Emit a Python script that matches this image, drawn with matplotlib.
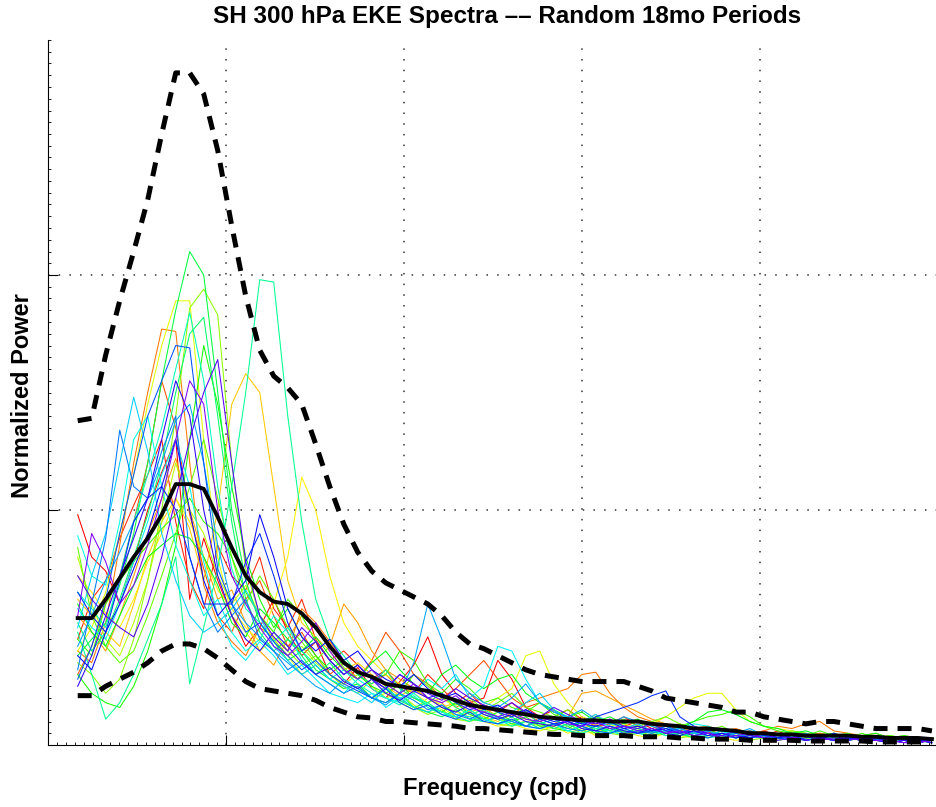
import numpy as np
import matplotlib
matplotlib.use("Agg")
import matplotlib.pyplot as plt
from matplotlib.ticker import MultipleLocator, FixedLocator, NullFormatter

plt.rcParams['font.family'] = ['Liberation Sans', 'DejaVu Sans']

# frequency bins (cpd)
freq = 0.00834 + 0.003933 * np.arange(62)

mean_spec = [0.54, 0.54, 0.62, 0.71, 0.80, 0.88, 0.98, 1.11, 1.11, 1.09,
             0.97, 0.84, 0.72, 0.65, 0.61, 0.60, 0.56, 0.50, 0.42, 0.35,
             0.31, 0.29, 0.26, 0.25, 0.24, 0.23, 0.21, 0.19, 0.17, 0.16,
             0.15, 0.14, 0.13, 0.12, 0.115, 0.11, 0.105, 0.105, 0.10, 0.10,
             0.10, 0.09, 0.085, 0.08, 0.07, 0.07, 0.065, 0.06, 0.05, 0.05,
             0.045, 0.045, 0.04, 0.04, 0.04, 0.04, 0.035, 0.035, 0.03, 0.03,
             0.03, 0.025]

upper_spec = [1.38, 1.39, 1.66, 1.89, 2.10, 2.32, 2.60, 2.86, 2.86, 2.77,
              2.53, 2.21, 1.91, 1.68, 1.57, 1.52, 1.45, 1.28, 1.10, 0.94,
              0.82, 0.74, 0.69, 0.66, 0.63, 0.60, 0.55, 0.48, 0.43, 0.41,
              0.38, 0.35, 0.32, 0.30, 0.29, 0.28, 0.27, 0.27, 0.27, 0.27,
              0.25, 0.23, 0.20, 0.19, 0.18, 0.17, 0.16, 0.14, 0.14, 0.12,
              0.11, 0.10, 0.09, 0.10, 0.10, 0.09, 0.08, 0.07, 0.07, 0.07,
              0.07, 0.06]

lower_spec = [0.21, 0.21, 0.25, 0.28, 0.31, 0.35, 0.40, 0.43, 0.43, 0.41,
              0.37, 0.32, 0.27, 0.24, 0.23, 0.22, 0.21, 0.19, 0.16, 0.14,
              0.12, 0.115, 0.10, 0.10, 0.095, 0.09, 0.085, 0.08, 0.07, 0.07,
              0.065, 0.06, 0.055, 0.05, 0.045, 0.045, 0.04, 0.04, 0.04, 0.04,
              0.035, 0.035, 0.035, 0.03, 0.03, 0.025, 0.025, 0.025, 0.02, 0.02,
              0.02, 0.02, 0.017, 0.017, 0.017, 0.017, 0.017, 0.013, 0.013, 0.013,
              0.013, 0.013]

# individual random 18-month samples
samples = [
    [0.98, 0.80, 0.74, 0.60, 0.78, 1.00, 1.16, 1.30, 0.62, 0.88, 0.70, 0.55, 0.42, 0.50, 0.62, 0.48, 0.38, 0.44, 0.30, 0.26,
     0.33, 0.24, 0.20, 0.27, 0.34, 0.46, 0.30, 0.22, 0.18, 0.20, 0.36, 0.28, 0.16, 0.12, 0.15, 0.10, 0.12, 0.09, 0.11, 0.08,
     0.10, 0.07, 0.09, 0.06, 0.08, 0.05, 0.07, 0.05, 0.04, 0.06, 0.04, 0.05, 0.03, 0.04, 0.05, 0.03, 0.02, 0.04, 0.03, 0.02, 0.03, 0.02],
    [0.45, 0.62, 0.70, 0.88, 1.02, 1.15, 1.30, 0.95, 0.70, 0.58, 0.85, 0.72, 0.66, 0.80, 0.58, 0.50, 0.62, 0.45, 0.36, 0.40,
     0.34, 0.28, 0.32, 0.25, 0.22, 0.30, 0.24, 0.18, 0.22, 0.16, 0.14, 0.18, 0.13, 0.10, 0.12, 0.15, 0.11, 0.08, 0.09, 0.12,
     0.08, 0.06, 0.09, 0.07, 0.05, 0.08, 0.06, 0.04, 0.05, 0.04, 0.06, 0.03, 0.04, 0.05, 0.03, 0.04, 0.02, 0.03, 0.04, 0.02, 0.02, 0.03],
    [0.30, 0.42, 0.60, 0.72, 0.95, 1.20, 1.55, 1.35, 0.98, 0.75, 0.55, 0.48, 0.62, 0.70, 0.55, 0.42, 0.48, 0.38, 0.30, 0.35,
     0.28, 0.36, 0.48, 0.40, 0.30, 0.26, 0.20, 0.24, 0.30, 0.36, 0.28, 0.20, 0.16, 0.18, 0.14, 0.12, 0.10, 0.13, 0.09, 0.07,
     0.09, 0.06, 0.08, 0.05, 0.07, 0.06, 0.04, 0.05, 0.06, 0.04, 0.03, 0.05, 0.04, 0.03, 0.02, 0.04, 0.03, 0.03, 0.02, 0.03, 0.02, 0.02],
    [0.40, 0.35, 0.52, 0.85, 1.20, 1.50, 1.77, 1.76, 1.20, 0.68, 0.52, 0.44, 0.38, 0.50, 0.46, 0.40, 0.58, 0.52, 0.44, 0.36,
     0.30, 0.26, 0.30, 0.24, 0.20, 0.18, 0.22, 0.16, 0.19, 0.14, 0.16, 0.12, 0.18, 0.20, 0.22, 0.24, 0.30, 0.31, 0.22, 0.16,
     0.12, 0.10, 0.08, 0.09, 0.07, 0.08, 0.06, 0.07, 0.05, 0.06, 0.08, 0.07, 0.09, 0.10, 0.06, 0.05, 0.04, 0.05, 0.03, 0.04, 0.03, 0.03],
    [0.55, 0.48, 0.40, 0.55, 0.72, 0.90, 1.05, 1.22, 1.00, 0.80, 0.62, 0.66, 0.52, 0.40, 0.34, 0.45, 0.55, 0.50, 0.42, 0.60,
     0.52, 0.40, 0.32, 0.28, 0.24, 0.20, 0.18, 0.12, 0.14, 0.16, 0.12, 0.10, 0.14, 0.11, 0.09, 0.12, 0.22, 0.23, 0.20, 0.17,
     0.14, 0.11, 0.09, 0.07, 0.08, 0.06, 0.07, 0.05, 0.06, 0.04, 0.05, 0.04, 0.03, 0.05, 0.04, 0.03, 0.04, 0.02, 0.03, 0.03, 0.02, 0.03],
    [0.62, 0.55, 0.48, 0.42, 0.60, 0.80, 0.95, 1.05, 0.92, 0.70, 1.00, 1.45, 1.58, 1.50, 1.10, 0.70, 0.52, 0.46, 0.40, 0.32,
     0.35, 0.30, 0.25, 0.21, 0.24, 0.20, 0.16, 0.18, 0.14, 0.12, 0.10, 0.13, 0.11, 0.09, 0.08, 0.10, 0.07, 0.09, 0.06, 0.08,
     0.07, 0.05, 0.06, 0.08, 0.05, 0.04, 0.06, 0.04, 0.05, 0.03, 0.04, 0.03, 0.05, 0.03, 0.02, 0.04, 0.03, 0.02, 0.03, 0.02, 0.02, 0.03],
    [0.72, 0.65, 0.56, 0.50, 0.62, 0.78, 0.90, 1.05, 0.95, 0.80, 0.66, 0.58, 0.50, 0.44, 0.60, 0.80, 1.14, 1.00, 0.72, 0.52,
     0.42, 0.36, 0.30, 0.26, 0.22, 0.18, 0.20, 0.16, 0.13, 0.10, 0.08, 0.09, 0.07, 0.06, 0.08, 0.05, 0.07, 0.04, 0.05, 0.06,
     0.04, 0.03, 0.05, 0.04, 0.03, 0.04, 0.03, 0.02, 0.03, 0.04, 0.02, 0.03, 0.02, 0.03, 0.02, 0.02, 0.03, 0.02, 0.01, 0.02, 0.01, 0.02],
    [0.40, 0.50, 0.65, 0.90, 1.15, 1.45, 1.70, 1.89, 1.89, 1.30, 0.80, 0.55, 0.48, 0.40, 0.45, 0.38, 0.30, 0.34, 0.28, 0.24,
     0.26, 0.20, 0.22, 0.18, 0.15, 0.20, 0.17, 0.14, 0.12, 0.16, 0.20, 0.24, 0.38, 0.40, 0.26, 0.18, 0.12, 0.10, 0.08, 0.09,
     0.07, 0.09, 0.12, 0.16, 0.20, 0.22, 0.22, 0.15, 0.10, 0.08, 0.07, 0.06, 0.05, 0.04, 0.05, 0.03, 0.04, 0.03, 0.02, 0.03, 0.02, 0.02],
    [0.80, 0.60, 0.45, 0.38, 0.52, 0.70, 0.95, 1.20, 1.00, 0.90, 0.72, 0.60, 0.68, 0.55, 0.45, 0.38, 0.42, 0.35, 0.30, 0.26,
     0.30, 0.25, 0.20, 0.22, 0.17, 0.14, 0.16, 0.12, 0.10, 0.13, 0.11, 0.09, 0.10, 0.08, 0.07, 0.09, 0.06, 0.05, 0.07, 0.06,
     0.05, 0.04, 0.06, 0.05, 0.04, 0.03, 0.05, 0.04, 0.03, 0.04, 0.03, 0.02, 0.03, 0.04, 0.02, 0.03, 0.02, 0.03, 0.02, 0.02, 0.01, 0.02],
    [0.35, 0.30, 0.22, 0.28, 0.45, 0.70, 1.00, 1.40, 1.86, 1.94, 1.83, 1.20, 0.75, 0.55, 0.48, 0.40, 0.34, 0.38, 0.30, 0.25,
     0.22, 0.28, 0.24, 0.19, 0.16, 0.13, 0.15, 0.11, 0.10, 0.12, 0.09, 0.08, 0.10, 0.07, 0.06, 0.08, 0.05, 0.07, 0.05, 0.04,
     0.06, 0.04, 0.05, 0.03, 0.04, 0.05, 0.03, 0.04, 0.02, 0.03, 0.04, 0.02, 0.03, 0.02, 0.03, 0.02, 0.03, 0.02, 0.01, 0.02, 0.02, 0.01],
    [0.84, 0.55, 0.42, 0.35, 0.40, 0.55, 0.72, 0.90, 1.10, 1.30, 1.05, 0.80, 0.60, 0.72, 0.62, 0.50, 0.44, 0.36, 0.42, 0.33,
     0.28, 0.32, 0.26, 0.22, 0.30, 0.25, 0.20, 0.17, 0.20, 0.15, 0.18, 0.22, 0.16, 0.14, 0.12, 0.15, 0.10, 0.12, 0.09, 0.11,
     0.08, 0.10, 0.12, 0.09, 0.07, 0.06, 0.08, 0.05, 0.06, 0.05, 0.04, 0.06, 0.05, 0.03, 0.04, 0.05, 0.03, 0.02, 0.04, 0.03, 0.03, 0.02],
    [0.45, 0.38, 0.60, 0.70, 0.78, 0.85, 0.92, 0.98, 1.05, 0.95, 0.90, 0.80, 0.65, 0.55, 0.48, 0.62, 0.55, 0.44, 0.36, 0.30,
     0.34, 0.28, 0.30, 0.40, 0.36, 0.26, 0.22, 0.28, 0.24, 0.18, 0.20, 0.16, 0.14, 0.18, 0.13, 0.11, 0.09, 0.12, 0.10, 0.08,
     0.07, 0.09, 0.06, 0.08, 0.10, 0.12, 0.13, 0.15, 0.12, 0.08, 0.06, 0.05, 0.04, 0.06, 0.04, 0.03, 0.05, 0.03, 0.04, 0.03, 0.02, 0.03],
    [0.30, 0.22, 0.18, 0.16, 0.25, 0.40, 0.60, 0.85, 1.30, 1.70, 1.45, 1.10, 0.80, 0.62, 0.50, 0.58, 0.46, 0.38, 0.32, 0.36,
     0.30, 0.25, 0.22, 0.26, 0.20, 0.17, 0.14, 0.18, 0.13, 0.11, 0.14, 0.10, 0.12, 0.08, 0.09, 0.07, 0.10, 0.06, 0.08, 0.05,
     0.07, 0.05, 0.06, 0.04, 0.05, 0.07, 0.04, 0.05, 0.03, 0.04, 0.03, 0.05, 0.04, 0.02, 0.03, 0.04, 0.02, 0.03, 0.02, 0.02, 0.03, 0.02],
    [0.60, 0.48, 0.42, 0.55, 0.68, 0.80, 0.85, 0.90, 0.88, 0.80, 0.68, 0.52, 0.46, 0.58, 0.52, 0.45, 0.40, 0.46, 0.38, 0.32,
     0.28, 0.35, 0.40, 0.32, 0.26, 0.22, 0.30, 0.34, 0.28, 0.24, 0.28, 0.30, 0.22, 0.18, 0.15, 0.12, 0.14, 0.10, 0.12, 0.09,
     0.11, 0.08, 0.09, 0.07, 0.10, 0.14, 0.15, 0.13, 0.10, 0.08, 0.07, 0.05, 0.06, 0.04, 0.05, 0.03, 0.04, 0.05, 0.03, 0.04, 0.03, 0.03],
    [0.38, 0.45, 0.52, 0.68, 0.90, 1.20, 1.55, 1.85, 2.10, 2.00, 1.50, 1.00, 0.70, 0.52, 0.44, 0.36, 0.40, 0.32, 0.28, 0.24,
     0.26, 0.20, 0.18, 0.22, 0.16, 0.14, 0.12, 0.15, 0.11, 0.10, 0.12, 0.09, 0.08, 0.10, 0.07, 0.06, 0.08, 0.05, 0.07, 0.06,
     0.05, 0.06, 0.04, 0.05, 0.03, 0.04, 0.05, 0.03, 0.04, 0.03, 0.02, 0.03, 0.04, 0.02, 0.03, 0.02, 0.03, 0.02, 0.02, 0.01, 0.02, 0.02],
    [0.52, 0.40, 0.48, 0.62, 0.80, 0.98, 1.20, 1.50, 1.75, 1.82, 1.40, 0.95, 0.62, 0.48, 0.40, 0.45, 0.38, 0.30, 0.35, 0.28,
     0.24, 0.20, 0.25, 0.19, 0.16, 0.18, 0.14, 0.12, 0.15, 0.11, 0.09, 0.12, 0.08, 0.10, 0.07, 0.09, 0.06, 0.08, 0.05, 0.06,
     0.05, 0.04, 0.06, 0.05, 0.03, 0.04, 0.06, 0.04, 0.03, 0.05, 0.03, 0.04, 0.02, 0.03, 0.04, 0.02, 0.03, 0.02, 0.03, 0.02, 0.02, 0.01],
    [0.48, 0.30, 0.11, 0.18, 0.30, 0.45, 0.60, 0.80, 0.26, 0.50, 0.75, 1.10, 1.50, 1.98, 1.97, 1.40, 0.95, 0.62, 0.45, 0.38,
     0.30, 0.26, 0.32, 0.24, 0.20, 0.18, 0.22, 0.16, 0.13, 0.15, 0.12, 0.10, 0.14, 0.09, 0.11, 0.08, 0.10, 0.07, 0.06, 0.08,
     0.06, 0.05, 0.07, 0.04, 0.05, 0.06, 0.04, 0.03, 0.05, 0.04, 0.03, 0.04, 0.02, 0.03, 0.02, 0.04, 0.03, 0.02, 0.02, 0.03, 0.02, 0.02],
    [0.65, 0.58, 0.50, 0.72, 0.95, 1.15, 1.35, 1.60, 1.84, 1.55, 1.10, 0.75, 0.58, 0.52, 0.44, 0.50, 0.40, 0.34, 0.28, 0.32,
     0.26, 0.22, 0.20, 0.17, 0.21, 0.16, 0.13, 0.12, 0.10, 0.14, 0.11, 0.08, 0.10, 0.07, 0.09, 0.06, 0.05, 0.07, 0.06, 0.04,
     0.05, 0.07, 0.04, 0.06, 0.05, 0.03, 0.04, 0.05, 0.03, 0.04, 0.03, 0.02, 0.04, 0.03, 0.02, 0.03, 0.02, 0.03, 0.01, 0.02, 0.02, 0.02],
    [0.89, 0.72, 0.68, 0.95, 1.30, 1.40, 1.10, 0.85, 0.70, 0.55, 0.62, 0.48, 0.40, 0.45, 0.55, 0.48, 0.36, 0.30, 0.26, 0.22,
     0.28, 0.24, 0.20, 0.18, 0.22, 0.17, 0.14, 0.12, 0.15, 0.11, 0.09, 0.10, 0.08, 0.07, 0.09, 0.06, 0.08, 0.06, 0.05, 0.07,
     0.05, 0.04, 0.06, 0.07, 0.09, 0.08, 0.06, 0.04, 0.05, 0.03, 0.04, 0.03, 0.02, 0.04, 0.03, 0.02, 0.03, 0.02, 0.03, 0.02, 0.01, 0.02],
    [0.58, 0.50, 0.45, 0.60, 0.78, 0.95, 1.15, 1.30, 1.10, 0.78, 0.55, 0.42, 0.36, 0.44, 0.38, 0.30, 0.34, 0.28, 0.22, 0.20,
     0.18, 0.22, 0.16, 0.20, 0.22, 0.28, 0.24, 0.30, 0.20, 0.25, 0.42, 0.40, 0.28, 0.18, 0.14, 0.12, 0.10, 0.13, 0.09, 0.08,
     0.07, 0.06, 0.08, 0.05, 0.06, 0.04, 0.05, 0.06, 0.04, 0.03, 0.04, 0.03, 0.02, 0.03, 0.04, 0.02, 0.03, 0.02, 0.02, 0.03, 0.02, 0.02],
    [0.50, 0.72, 0.90, 1.20, 1.48, 1.25, 0.90, 0.70, 0.55, 0.48, 0.52, 0.58, 0.66, 0.55, 0.42, 0.36, 0.30, 0.34, 0.28, 0.25,
     0.22, 0.18, 0.24, 0.20, 0.16, 0.14, 0.17, 0.13, 0.12, 0.10, 0.12, 0.14, 0.18, 0.22, 0.15, 0.11, 0.09, 0.10, 0.08, 0.07,
     0.09, 0.06, 0.05, 0.07, 0.05, 0.04, 0.06, 0.05, 0.03, 0.04, 0.03, 0.04, 0.02, 0.03, 0.02, 0.03, 0.04, 0.02, 0.03, 0.02, 0.02, 0.01],
    [0.42, 0.55, 0.70, 0.82, 0.95, 1.05, 1.20, 1.38, 1.45, 1.20, 0.85, 0.60, 0.52, 0.46, 0.40, 0.35, 0.30, 0.25, 0.22, 0.28,
     0.24, 0.20, 0.17, 0.22, 0.35, 0.60, 0.45, 0.28, 0.22, 0.18, 0.16, 0.20, 0.26, 0.18, 0.14, 0.12, 0.15, 0.11, 0.09, 0.12,
     0.10, 0.08, 0.06, 0.07, 0.05, 0.06, 0.04, 0.05, 0.07, 0.04, 0.03, 0.04, 0.05, 0.03, 0.02, 0.04, 0.03, 0.02, 0.03, 0.02, 0.03, 0.02],
    [0.32, 0.60, 0.88, 1.34, 1.10, 1.05, 1.25, 1.40, 0.80, 0.60, 0.48, 0.55, 0.62, 0.45, 0.40, 0.32, 0.36, 0.30, 0.26, 0.22,
     0.25, 0.20, 0.18, 0.22, 0.19, 0.15, 0.17, 0.13, 0.11, 0.14, 0.12, 0.10, 0.08, 0.11, 0.09, 0.07, 0.06, 0.08, 0.07, 0.05,
     0.06, 0.05, 0.07, 0.06, 0.04, 0.05, 0.04, 0.03, 0.05, 0.04, 0.03, 0.02, 0.04, 0.03, 0.02, 0.03, 0.02, 0.03, 0.02, 0.01, 0.02, 0.02],
    [0.28, 0.42, 0.62, 0.90, 1.15, 1.40, 1.55, 1.70, 1.69, 1.20, 0.75, 0.60, 0.48, 0.52, 0.44, 0.38, 0.32, 0.36, 0.30, 0.26,
     0.23, 0.20, 0.24, 0.18, 0.15, 0.17, 0.13, 0.11, 0.14, 0.10, 0.09, 0.11, 0.08, 0.07, 0.09, 0.10, 0.08, 0.06, 0.05, 0.07,
     0.05, 0.06, 0.08, 0.06, 0.04, 0.03, 0.05, 0.04, 0.03, 0.04, 0.03, 0.02, 0.03, 0.04, 0.02, 0.03, 0.02, 0.02, 0.03, 0.02, 0.01, 0.02],
    [0.65, 0.55, 0.48, 0.70, 0.95, 1.05, 1.10, 1.00, 0.80, 0.60, 0.60, 0.60, 0.78, 0.90, 0.72, 0.52, 0.40, 0.44, 0.36, 0.30,
     0.34, 0.28, 0.24, 0.30, 0.26, 0.20, 0.22, 0.18, 0.15, 0.17, 0.14, 0.12, 0.15, 0.11, 0.09, 0.10, 0.08, 0.12, 0.14, 0.16,
     0.18, 0.21, 0.23, 0.12, 0.08, 0.06, 0.07, 0.05, 0.06, 0.04, 0.05, 0.03, 0.04, 0.03, 0.05, 0.03, 0.02, 0.03, 0.02, 0.03, 0.02, 0.02],
    [0.38, 0.32, 0.48, 0.60, 0.75, 0.90, 1.10, 1.30, 1.00, 0.70, 0.55, 0.62, 0.70, 0.98, 0.80, 0.58, 0.46, 0.40, 0.45, 0.36,
     0.40, 0.32, 0.28, 0.25, 0.30, 0.24, 0.20, 0.22, 0.18, 0.15, 0.17, 0.13, 0.15, 0.12, 0.10, 0.11, 0.09, 0.08, 0.10, 0.07,
     0.08, 0.06, 0.07, 0.05, 0.06, 0.04, 0.05, 0.03, 0.04, 0.05, 0.03, 0.04, 0.02, 0.03, 0.04, 0.02, 0.03, 0.02, 0.01, 0.02, 0.02, 0.01],
    [0.25, 0.38, 0.55, 0.72, 0.88, 1.05, 1.30, 1.55, 1.40, 1.00, 0.72, 0.55, 0.45, 0.40, 0.48, 0.42, 0.35, 0.30, 0.33, 0.27,
     0.24, 0.28, 0.22, 0.19, 0.23, 0.20, 0.16, 0.14, 0.17, 0.13, 0.11, 0.13, 0.10, 0.09, 0.08, 0.10, 0.07, 0.06, 0.08, 0.06,
     0.05, 0.07, 0.05, 0.04, 0.06, 0.05, 0.03, 0.04, 0.03, 0.05, 0.04, 0.03, 0.02, 0.03, 0.02, 0.03, 0.02, 0.02, 0.01, 0.02, 0.01, 0.02],
    [0.72, 0.62, 0.55, 0.50, 0.46, 0.60, 0.80, 1.05, 1.30, 1.50, 1.64, 1.20, 0.78, 0.55, 0.46, 0.40, 0.50, 0.44, 0.36, 0.30,
     0.34, 0.28, 0.24, 0.30, 0.26, 0.22, 0.19, 0.24, 0.20, 0.17, 0.15, 0.18, 0.14, 0.12, 0.16, 0.13, 0.10, 0.09, 0.11, 0.08,
     0.07, 0.09, 0.06, 0.05, 0.07, 0.05, 0.04, 0.06, 0.04, 0.03, 0.04, 0.03, 0.02, 0.03, 0.02, 0.04, 0.02, 0.03, 0.02, 0.01, 0.02, 0.01],
    [0.55, 0.90, 0.78, 0.60, 0.68, 0.85, 1.05, 1.30, 1.55, 1.45, 1.00, 0.72, 0.60, 0.50, 0.42, 0.38, 0.44, 0.52, 0.40, 0.32,
     0.28, 0.32, 0.26, 0.22, 0.26, 0.20, 0.18, 0.21, 0.16, 0.14, 0.12, 0.14, 0.11, 0.10, 0.12, 0.09, 0.08, 0.10, 0.07, 0.08,
     0.06, 0.07, 0.05, 0.06, 0.04, 0.05, 0.03, 0.04, 0.05, 0.03, 0.02, 0.03, 0.04, 0.02, 0.03, 0.02, 0.03, 0.02, 0.02, 0.01, 0.01, 0.02],
]

fig = plt.figure(figsize=(9.36, 8.07), dpi=100)
ax = fig.add_axes([48 / 936, 62 / 807, 1 - 48 / 936, 705 / 807])

colors = plt.cm.hsv(np.linspace(0, 0.76, len(samples)))
for s, c in zip(samples, colors):
    ax.plot(freq, s, color=c, lw=0.75, zorder=2)

ax.plot(freq, upper_spec, color='k', lw=3.6, linestyle=(0, (2.8, 2.0)), zorder=4)
ax.plot(freq, lower_spec, color='k', lw=3.6, linestyle=(0, (2.8, 2.0)), zorder=4)
ax.plot(freq, mean_spec, color='k', lw=2.8, zorder=5)

ax.set_xlim(0, 0.2494)
ax.set_ylim(0, 3)
ax.xaxis.set_major_locator(FixedLocator([0.05, 0.10, 0.15, 0.20]))
ax.yaxis.set_major_locator(FixedLocator([1, 2]))
ax.xaxis.set_minor_locator(MultipleLocator(0.0025))
ax.yaxis.set_minor_locator(MultipleLocator(0.05))
ax.xaxis.set_major_formatter(NullFormatter())
ax.yaxis.set_major_formatter(NullFormatter())
ax.tick_params(which='major', direction='in', length=7, width=0.8)
ax.tick_params(which='minor', direction='in', length=2, width=0.6)
ax.grid(True, which='major', color='#333333', linestyle=(0, (1, 6)), lw=1.1)
ax.spines['top'].set_visible(False)
ax.spines['right'].set_visible(False)

fig.text(507 / 936, 1 - 17 / 807, 'SH 300 hPa EKE Spectra \u2013\u2013 Random 18mo Periods',
         ha='center', va='center', fontsize=17.5, fontweight='bold')
ax.set_xlabel('Frequency (cpd)', fontsize=17, fontweight='bold')
ax.xaxis.set_label_coords((495 - 48) / 888, (745 - 777) / 705)
ax.set_ylabel('Normalized Power', fontsize=17, fontweight='bold')
ax.yaxis.set_label_coords((34 - 48) / 888, (745 - 396) / 705)

fig.savefig('out.png', dpi=100)
